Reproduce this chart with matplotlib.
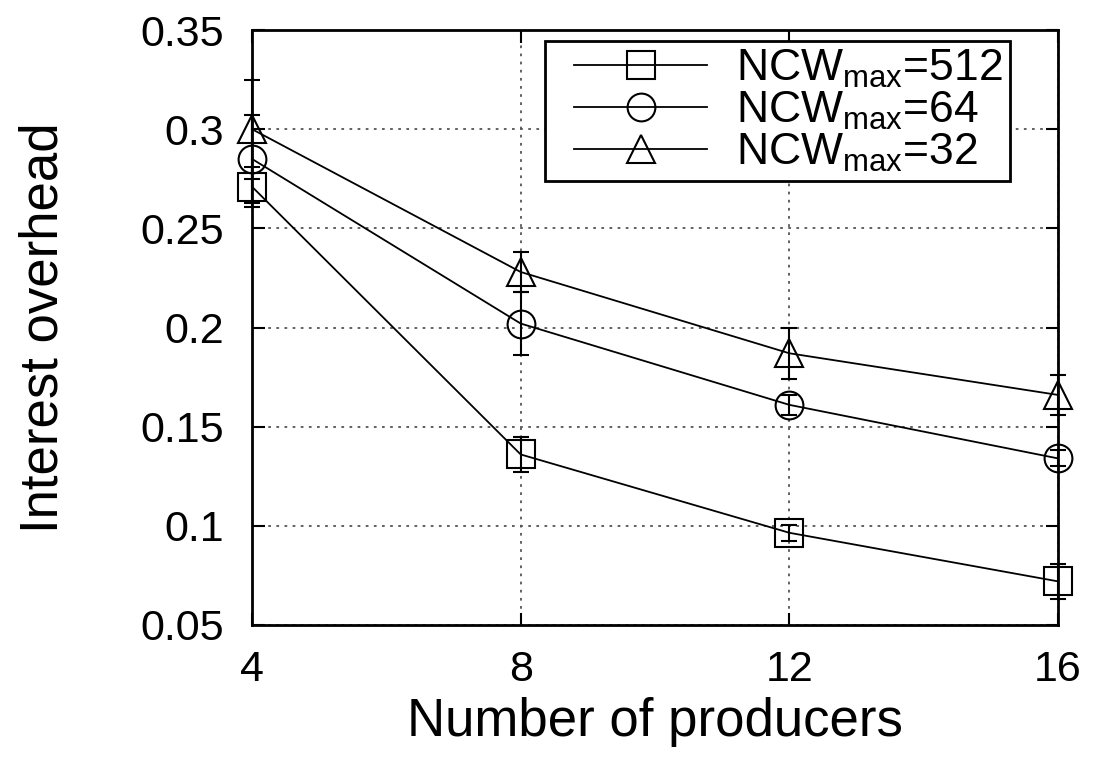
import matplotlib
matplotlib.use("Agg")
import matplotlib.pyplot as plt
from matplotlib.lines import Line2D
from matplotlib.patches import Rectangle

plt.rcParams['font.family'] = ['Liberation Sans', 'DejaVu Sans']
plt.rcParams['mathtext.default'] = 'regular'

producers = [4, 8, 12, 16]
overhead_512 = [0.271, 0.136, 0.0965, 0.072]
err_512 = [0.010, 0.009, 0.004, 0.009]
overhead_64 = [0.285, 0.202, 0.161, 0.134]
err_64 = [0.022, 0.016, 0.005, 0.004]
overhead_32 = [0.300, 0.228, 0.187, 0.166]
err_32 = [0.025, 0.010, 0.013, 0.010]
labels = ['NCW$_{max}$=512', 'NCW$_{max}$=64', 'NCW$_{max}$=32']
markers = ['s', 'o', '^']

fig = plt.figure(figsize=(10.93, 7.66), dpi=100)
ax = fig.add_axes([252 / 1093, 1 - 625 / 766, (1058 - 252) / 1093, (625 - 30) / 766])

handles = []
for y, e, m, lab in zip([overhead_512, overhead_64, overhead_32],
                        [err_512, err_64, err_32], markers, labels):
    lines = ax.errorbar(producers, y, yerr=e, color='black', lw=1.3, elinewidth=1.5,
                        capsize=6, capthick=1.5, marker=m, markersize=20,
                        markerfacecolor='none', markeredgecolor='black',
                        markeredgewidth=1.5, zorder=3)
    for art in lines.get_children():
        art.set_clip_on(False)
    handles.append(Line2D([], [], color='black', lw=1.3, marker=m,
                          markersize=20, markerfacecolor='none',
                          markeredgewidth=1.5))

ax.set_xlim(4, 16)
ax.set_ylim(0.05, 0.35)
ax.set_xticks(producers)
ax.set_yticks([0.05, 0.1, 0.15, 0.2, 0.25, 0.3, 0.35])
ax.set_yticklabels(['0.05', '0.1', '0.15', '0.2', '0.25', '0.3', '0.35'])
ax.grid(True, linestyle=(0, (1.5, 3)), color='#555555', lw=1.3)
ax.tick_params(direction='in', length=9, width=1.5, labelsize=31,
               top=True, right=True)
ax.tick_params(axis='y', pad=20)
ax.tick_params(axis='x', pad=18)
for s in ax.spines.values():
    s.set_linewidth(2)

ax.set_xlabel('Number of producers', fontsize=38, labelpad=5)
ax.set_ylabel('Interest overhead', fontsize=38, labelpad=52)

leg = ax.legend(handles, labels, loc='upper right', bbox_to_anchor=(0.94, 0.982),
                fontsize=32, handlelength=3.0, handletextpad=0.65,
                labelspacing=0.0, borderpad=0.15, borderaxespad=0,
                fancybox=False, frameon=False)
leg.set_zorder(5)

# legend box: extra room on the left of the line samples
fig.canvas.draw()
bb = leg.get_window_extent()
pad_left = 22
frame = Rectangle((bb.x0 - pad_left, bb.y0), bb.width + pad_left, bb.height,
                  transform=None, facecolor='white', edgecolor='black',
                  lw=2, zorder=4)
ax.add_artist(frame)

fig.savefig('out.png', dpi=100)
